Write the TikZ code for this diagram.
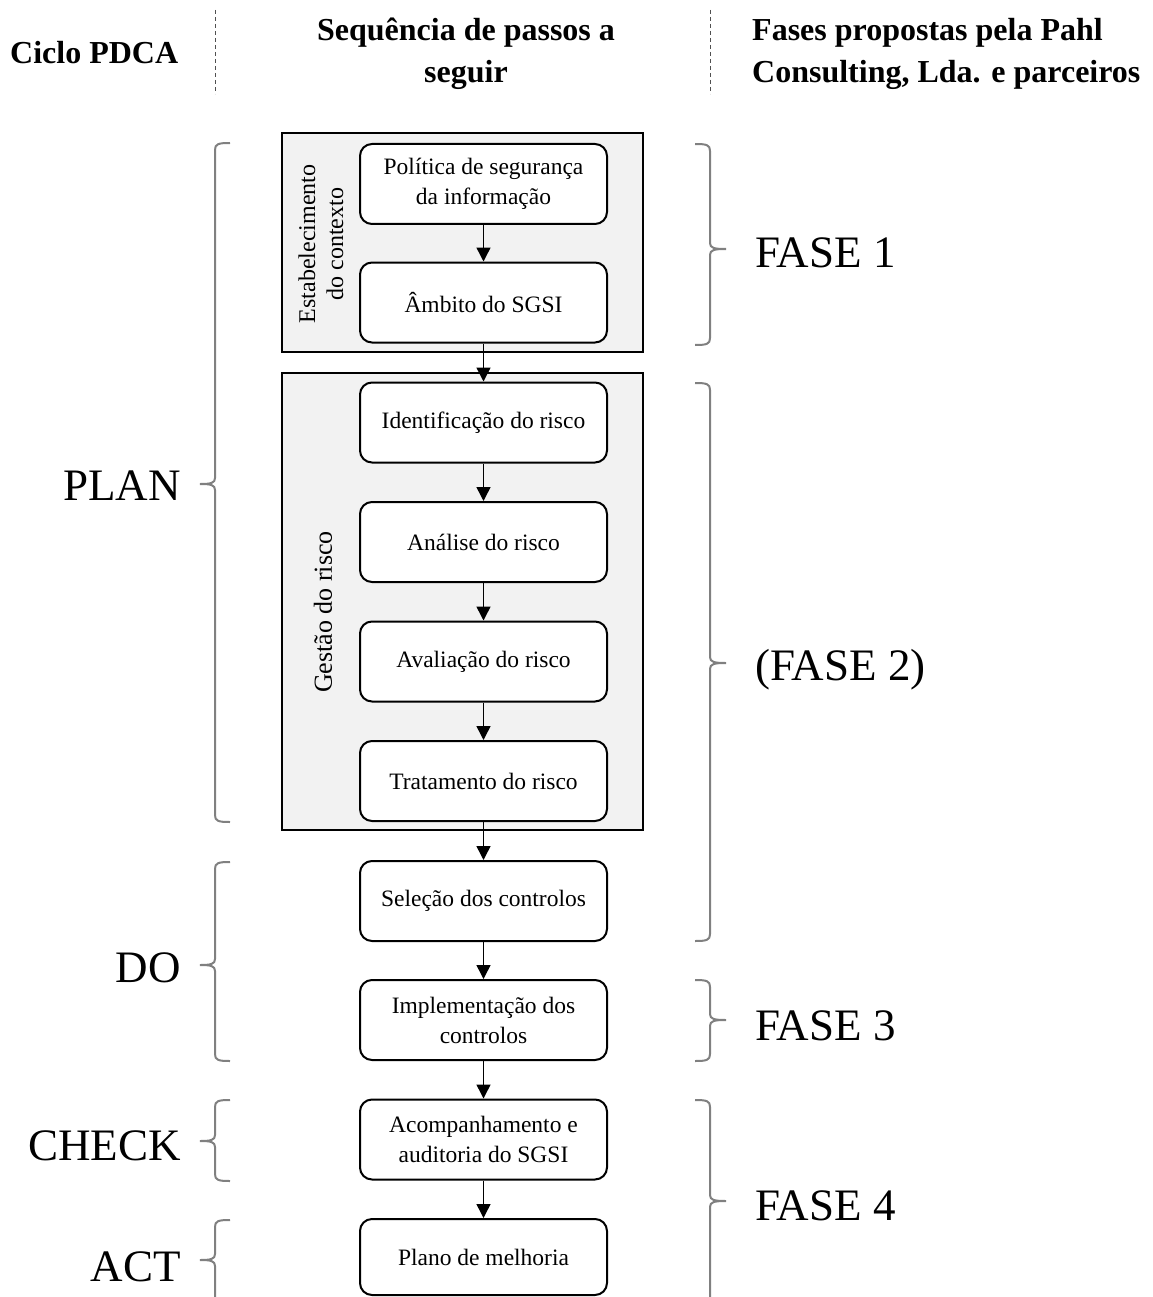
\documentclass[tikz,border=0pt]{standalone}
\usepackage{fontspec}
\setmainfont{Liberation Serif}
\usetikzlibrary{arrows.meta}
\definecolor{grayfill}{HTML}{F2F2F2}
\definecolor{bracegray}{HTML}{808080}
\definecolor{sepgray}{HTML}{505050}
\newcommand\leftbr[3]{\draw[bracel] (230,#1) .. controls (218,#1) and (215,#1+1) .. (215,#1+7) -- (215,#2-6) .. controls (215,#2-1) and (211,#2) .. (200,#2) .. controls (211,#2) and (215,#2+1) .. (215,#2+6) -- (215,#3-7) .. controls (215,#3-1) and (218,#3) .. (230,#3);}
\newcommand\rightbr[3]{\draw[bracel] (695,#1) .. controls (707,#1) and (710,#1+1) .. (710,#1+7) -- (710,#2-6) .. controls (710,#2-1) and (714,#2) .. (726,#2) .. controls (714,#2) and (710,#2+1) .. (710,#2+6) -- (710,#3-7) .. controls (710,#3-1) and (707,#3) .. (695,#3);}
\begin{document}
\begin{tikzpicture}[x=1pt,y=-1pt,
  stepbox/.style={draw, line width=2pt, rounded corners=12pt, fill=white, minimum width=247pt, minimum height=80pt, align=center, inner sep=0pt, font=\fontsize{23.5}{30}\selectfont},
  groupbox/.style={draw, line width=2.5pt, fill=grayfill, minimum width=361pt, inner sep=0pt},
  grouplabel/.style={rotate=90, align=center, inner sep=0pt, font=\fontsize{24}{28}\selectfont},
  arr/.style={line width=1.5pt, -{Triangle[width=14pt,length=14pt]}},
  bigl/.style={inner sep=0pt, font=\fontsize{45}{50}\selectfont},
  head/.style={inner sep=0pt, font=\bfseries\fontsize{32}{42}\selectfont},
  bracel/.style={draw=bracegray, line width=2pt},
  sep/.style={draw=sepgray, line width=1pt, dash pattern=on 4pt off 3pt}
]
\useasboundingbox (0,0) rectangle (1152,1297);
\clip (0,0) rectangle (1152,1297);

% header
\node[head, anchor=base west] (h1) at (10,64) {Ciclo PDCA};
\node[head, anchor=base] (h2a) at (466,41) {Sequência de passos a};
\node[head, anchor=base] (h2b) at (466,83) {seguir};
\node[head, anchor=base west] (h3a) at (752,41) {Fases propostas pela Pahl};
\node[head, anchor=base west] (h3b) at (752,83) {Consulting, Lda. e parceiros};
\draw[sep] (215,10) -- (215,94);
\draw[sep] (710,10) -- (710,94);

% group boxes
\node[groupbox, minimum height=219pt] (ctx) at (462.5,242.5) {};
\node[groupbox, minimum height=457pt] (risk) at (462.5,601.5) {};
\node[grouplabel] (ctxl) at (321,244) {Estabelecimento\\do contexto};
\node[grouplabel, font=\fontsize{26}{28}\selectfont] (riskl) at (323,612) {Gestão do risco};

% steps
\node[stepbox] (p1) at (483.5,184) {Política de segurança\\da informação};
\node[stepbox] (p2) at (483.5,302.5) {Âmbito do SGSI};
\node[stepbox] (r1) at (483.5,422.5) {Identificação do risco};
\node[stepbox] (r2) at (483.5,542) {Análise do risco};
\node[stepbox] (r3) at (483.5,661.5) {Avaliação do risco};
\node[stepbox] (r4) at (483.5,781) {Tratamento do risco};
\node[stepbox] (s) at (483.5,901) {Seleção dos controlos};
\node[stepbox] (i) at (483.5,1020) {Implementação dos\\controlos};
\node[stepbox] (a) at (483.5,1139.5) {Acompanhamento e\\auditoria do SGSI};
\node[stepbox, minimum height=76pt] (m) at (483.5,1257) {Plano de melhoria};

\draw[arr] (p1) -- (p2);
\draw[arr] (p2) -- (r1);
\draw[arr] (r1) -- (r2);
\draw[arr] (r2) -- (r3);
\draw[arr] (r3) -- (r4);
\draw[arr] (r4) -- (s);
\draw[arr] (s) -- (i);
\draw[arr] (i) -- (a);
\draw[arr] (a) -- (m);

% PDCA labels
\node[bigl, anchor=base east] (plan) at (181,500) {PLAN};
\node[bigl, anchor=base east] (do) at (181,982) {DO};
\node[bigl, anchor=base east] (check) at (181,1160) {CHECK};
\node[bigl, anchor=base east] (act) at (181,1281) {ACT};

% phases
\node[bigl, anchor=base west] (f1) at (755,267) {FASE 1};
\node[bigl, anchor=base west] (f2) at (755,680) {(FASE 2)};
\node[bigl, anchor=base west] (f3) at (755,1040) {FASE 3};
\node[bigl, anchor=base west] (f4) at (755,1220) {FASE 4};

% braces
\leftbr{143}{484}{822}
\leftbr{862}{965}{1061}
\leftbr{1100}{1141}{1181}
\leftbr{1220}{1260}{1330}
\rightbr{144}{249}{345}
\rightbr{383}{663}{941}
\rightbr{980}{1020}{1061}
\rightbr{1100}{1201}{1330}
\end{tikzpicture}
\end{document}
